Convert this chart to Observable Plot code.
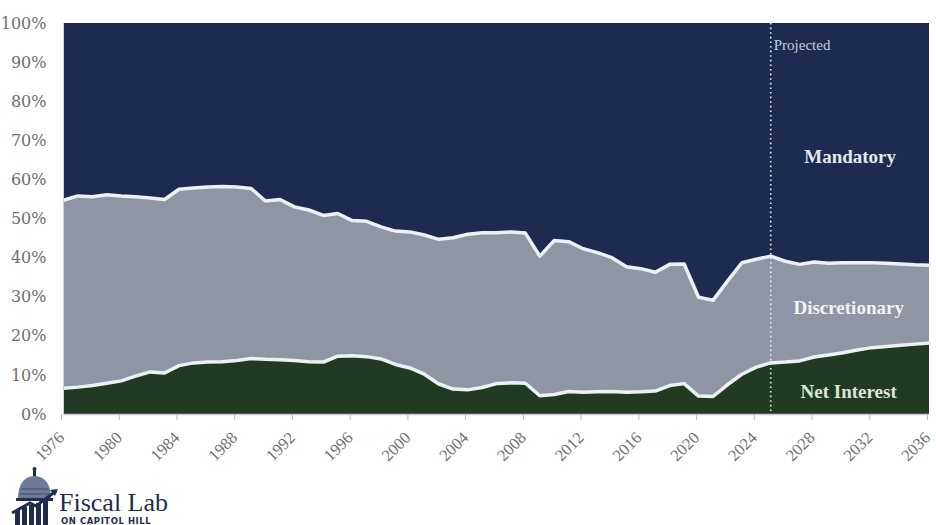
<!DOCTYPE html>
<html>
<head>
<meta charset="utf-8">
<script src="https://cdn.jsdelivr.net/npm/d3@7"></script>
<script src="https://cdn.jsdelivr.net/npm/@observablehq/plot@0.6"></script>
<style>
  html, body { margin: 0; padding: 0; background: white; }
  #wrap { position: relative; width: 936px; height: 525px; overflow: hidden; }
  #logo { position: absolute; left: 0; top: 455px; width: 300px; height: 70px; }
</style>
</head>
<body>
<div id="wrap">
  <div id="chart"></div>
  <div id="logo">
    <svg width="300" height="70" viewBox="0 0 300 70">
      <rect x="33" y="14" width="3" height="8" fill="#1f2d4f"/>
      <circle cx="34.5" cy="14" r="2" fill="#1f2d4f"/>
      <path d="M18,44 Q18,22 34.5,21 Q51,22 51,44 Z" fill="#6e7b97"/>
      <path d="M21,34 L48,34 M20,39 L49,39" stroke="#3d4b6b" stroke-width="1"/>
      <rect x="16" y="43" width="37" height="3" fill="#1f2d4f"/>
      <rect x="15" y="55" width="5" height="15" fill="#1f2d4f"/>
      <rect x="22" y="52" width="5" height="18" fill="#1f2d4f"/>
      <rect x="29" y="50" width="5" height="20" fill="#1f2d4f"/>
      <rect x="36" y="48" width="5" height="22" fill="#1f2d4f"/>
      <rect x="43" y="46" width="5" height="24" fill="#1f2d4f"/>
      <path d="M12,58 L30,48 L36,51 L56,36" stroke="#1f2d4f" stroke-width="3" fill="none"/>
      <path d="M50,35 L58,34 L55,41 Z" fill="#1f2d4f"/>
      <text x="59" y="56" font-family="Liberation Serif" font-size="26" fill="#1f2d4f">Fiscal Lab</text>
      <text x="61" y="69" font-family="DejaVu Sans" font-weight="bold" font-size="8.5" letter-spacing="0.55" fill="#1f2d4f">ON CAPITOL HILL</text>
    </svg>
  </div>
</div>
<script>
// ---- Data (shares of federal outlays, %) ----
const years = [1976,1977,1978,1979,1980,1981,1982,1983,1984,1985,1986,1987,1988,1989,1990,1991,1992,1993,1994,1995,1996,1997,1998,1999,2000,2001,2002,2003,2004,2005,2006,2007,2008,2009,2010,2011,2012,2013,2014,2015,2016,2017,2018,2019,2020,2021,2022,2023,2024,2025,2026,2027,2028,2029,2030,2031,2032,2033,2034,2035,2036];

const netInterest = [6.7,7.0,7.4,8.0,8.6,9.8,10.9,10.6,12.5,13.2,13.4,13.5,13.8,14.3,14.1,14.0,13.8,13.5,13.4,14.9,15.0,14.8,14.2,12.8,11.9,10.3,7.8,6.5,6.3,6.9,7.9,8.1,8.0,4.8,5.1,5.9,5.7,5.8,5.9,5.7,5.8,6.0,7.4,7.9,4.7,4.6,7.6,10.3,12.1,13.2,13.4,13.7,14.7,15.2,15.8,16.5,17.1,17.4,17.7,18.0,18.3];

const discretionary = [48.1,48.9,48.3,48.2,47.3,45.9,44.5,44.4,45.1,44.7,44.8,44.8,44.4,43.5,40.5,41.0,39.3,38.8,37.5,36.5,34.6,34.6,33.8,34.1,34.8,35.6,37.0,38.7,39.8,39.6,38.6,38.6,38.4,35.7,39.4,38.3,36.7,35.6,34.2,32.1,31.5,30.4,31.0,30.6,25.3,24.6,26.5,28.5,27.6,27.3,25.8,24.7,24.3,23.5,23.0,22.3,21.7,21.3,20.8,20.3,19.9];

const mandatory = [45.2,44.1,44.3,43.8,44.1,44.3,44.6,45.0,42.4,42.1,41.8,41.7,41.8,42.2,45.4,45.0,46.9,47.7,49.1,48.6,50.4,50.6,52.0,53.1,53.3,54.1,55.2,54.8,53.9,53.5,53.5,53.3,53.6,59.5,55.5,55.8,57.6,58.6,59.9,62.2,62.7,63.6,61.6,61.5,70.0,70.8,65.9,61.2,60.3,59.5,60.8,61.6,61.0,61.3,61.2,61.2,61.2,61.3,61.5,61.7,61.8];

const seriesNames = ["Net Interest", "Discretionary", "Mandatory"];
const seriesColors = ["#213a23", "#8f95a3", "#1c2b4f"];
const xTicks = [1976,1980,1984,1988,1992,1996,2000,2004,2008,2012,2016,2020,2024,2028,2032,2036];
const yTicks = [0,10,20,30,40,50,60,70,80,90,100];
const projectedYear = 2025;
const seriesLabels = [
  {text: "Mandatory", year: 2030.5, value: 66, color: "#e4e7ee"},
  {text: "Discretionary", year: 2030.4, value: 27.3, color: "#f2f3f6"},
  {text: "Net Interest", year: 2030.4, value: 5.9, color: "#dbe6d8"}
];

// ---- Long table built from the arrays ----
const seriesValues = {"Net Interest": netInterest, "Discretionary": discretionary, "Mandatory": mandatory};
const rows = [];
for (const s of seriesNames) {
  years.forEach((yr, i) => rows.push({year: yr, series: s, value: seriesValues[s][i]}));
}
const boundaryRows = rows.filter(d => d.series !== "Mandatory");

const chart = Plot.plot({
  width: 936,
  height: 470,
  marginLeft: 63,
  marginRight: 7,
  marginTop: 23,
  marginBottom: 56,
  x: {domain: [1976, 2036]},
  y: {domain: [0, 100]},
  color: {domain: seriesNames, range: seriesColors},
  style: {fontFamily: "DejaVu Serif", fontSize: "16px", background: "white", overflow: "visible"},
  marks: [
    Plot.areaY(rows, {x: "year", y: "value", fill: "series", order: seriesNames}),
    Plot.lineY(boundaryRows, Plot.stackY2({x: "year", y: "value", z: "series", order: seriesNames, stroke: "#edf1f6", strokeWidth: 3.5, strokeLinejoin: "round"})),
    Plot.ruleX([projectedYear], {stroke: "#e6e9ef", strokeWidth: 1.6, strokeDasharray: "1.6,3"}),
    Plot.text(["Projected"], {x: projectedYear, y: 94.5, dx: 3, textAnchor: "start", fill: "#c6cddc", fontSize: 15, fontFamily: "Liberation Serif"}),
    Plot.text(seriesLabels, {x: "year", y: "value", text: "text", fill: "color", fontSize: 19, fontWeight: "bold", fontFamily: "Liberation Serif"}),
    Plot.ruleX([1976], {stroke: "#d0d3d8", strokeWidth: 1}),
    Plot.ruleY([0], {stroke: "#c9ccd1", strokeWidth: 1.5}),
    Plot.axisX({ticks: xTicks, tickFormat: d => String(d), tickRotate: -45, tickSize: 6, tickPadding: 14.5, dx: -2, stroke: "#b8bcc2", fill: "#6e6e6e", fontSize: 16.5, fontFamily: "Liberation Serif", label: null}),
    Plot.axisY({ticks: yTicks, tickFormat: d => d + "%", tickSize: 0, tickPadding: 17, fill: "#6e6e6e", fontSize: 16, label: null})
  ]
});
document.getElementById("chart").appendChild(chart);
</script>
</body>
</html>
